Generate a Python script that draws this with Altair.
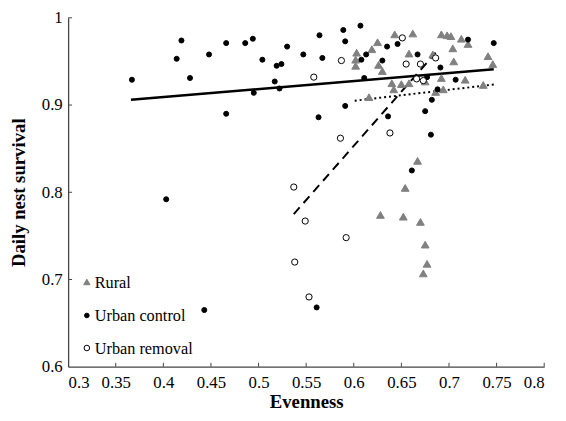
import altair as alt
import pandas as pd

# --- data ---
rural_x = [0.603, 0.602, 0.602, 0.619, 0.625, 0.626, 0.630, 0.643, 0.662, 0.658,
           0.640, 0.642, 0.650, 0.658, 0.683, 0.692, 0.698, 0.702, 0.713, 0.720,
           0.704, 0.705, 0.692, 0.717, 0.694, 0.686, 0.675, 0.741, 0.746, 0.736,
           0.616, 0.667, 0.654, 0.628, 0.652, 0.670, 0.675, 0.677, 0.673]
rural_y = [0.960, 0.952, 0.945, 0.964, 0.972, 0.946, 0.939, 0.981, 0.982, 0.959,
           0.925, 0.918, 0.924, 0.925, 0.958, 0.981, 0.980, 0.979, 0.976, 0.970,
           0.965, 0.950, 0.931, 0.929, 0.918, 0.915, 0.927, 0.956, 0.947, 0.923,
           0.909, 0.836, 0.805, 0.774, 0.772, 0.766, 0.740, 0.718, 0.707]

control_x = [0.367, 0.419, 0.414, 0.428, 0.448, 0.466, 0.466, 0.486, 0.494, 0.495,
             0.504, 0.519, 0.524, 0.517, 0.522, 0.530, 0.547, 0.403, 0.443, 0.564,
             0.567, 0.589, 0.591, 0.607, 0.608, 0.613, 0.630, 0.635, 0.646, 0.667,
             0.691, 0.720, 0.747, 0.611, 0.677, 0.707, 0.688, 0.682, 0.675, 0.591,
             0.563, 0.636, 0.681, 0.661, 0.561]
control_y = [0.929, 0.974, 0.953, 0.931, 0.958, 0.971, 0.890, 0.971, 0.976, 0.914,
             0.952, 0.945, 0.947, 0.927, 0.919, 0.967, 0.958, 0.792, 0.665, 0.980,
             0.954, 0.986, 0.973, 0.991, 0.952, 0.958, 0.951, 0.967, 0.970, 0.958,
             0.943, 0.975, 0.971, 0.931, 0.932, 0.929, 0.918, 0.906, 0.893, 0.899,
             0.886, 0.887, 0.866, 0.825, 0.668]

removal_x = [0.537, 0.549, 0.538, 0.553, 0.558, 0.587, 0.586, 0.592, 0.638, 0.651,
             0.655, 0.670, 0.686, 0.666, 0.673]
removal_y = [0.806, 0.767, 0.720, 0.680, 0.932, 0.951, 0.862, 0.748, 0.868, 0.977,
             0.947, 0.947, 0.954, 0.930, 0.928]

groups = ["Rural", "Urban control", "Urban removal"]

# fitted lines (endpoints)
control_line_x = [0.366, 0.747]
control_line_y = [0.906, 0.941]
removal_line_x = [0.537, 0.686]
removal_line_y = [0.775, 0.960]
rural_line_x = [0.601, 0.747]
rural_line_y = [0.905, 0.9235]

x_ticks = [0.3, 0.35, 0.4, 0.45, 0.5, 0.55, 0.6, 0.65, 0.7, 0.75, 0.8]
y_ticks = [0.6, 0.7, 0.8, 0.9, 1.0]

# --- build tables ---
pts = pd.concat([
    pd.DataFrame({"x": rural_x, "y": rural_y, "g": groups[0]}),
    pd.DataFrame({"x": control_x, "y": control_y, "g": groups[1]}),
    pd.DataFrame({"x": removal_x, "y": removal_y, "g": groups[2]}),
], ignore_index=True)

FONT = "Liberation Serif"
W, H = 483, 354

SHAPES = ["triangle-up", "circle", "circle"]
FILLS = ["#808080", "#000000", "#ffffff"]
STROKES = ["#808080", "#000000", "#000000"]
SIZES = [62, 26, 40]

xscale = alt.Scale(domain=[0.3, 0.8], nice=False, zero=False)
yscale = alt.Scale(domain=[0.6, 1.0], nice=False, zero=False)

xaxis = alt.Axis(values=x_ticks, format=".2~f", title="Evenness", ticks=False,
                 grid=False, labelPadding=8, titlePadding=2,
                 domainColor="#444", domainWidth=1.3,
                 labelFont=FONT, labelFontSize=17, labelColor="black",
                 titleFont=FONT, titleFontSize=19, titleFontWeight="bold", titleColor="black")
yaxis = alt.Axis(values=y_ticks, format=".1~f", title="Daily nest survival",
                 ticks=False, grid=False, labelPadding=6, titlePadding=13,
                 domainColor="#444", domainWidth=1.3,
                 labelFont=FONT, labelFontSize=17, labelColor="black",
                 titleFont=FONT, titleFontSize=19, titleFontWeight="bold", titleColor="black")

points = alt.Chart(pts).mark_point(opacity=1, fillOpacity=1, strokeWidth=1).encode(
    x=alt.X("x:Q", scale=xscale, axis=xaxis),
    y=alt.Y("y:Q", scale=yscale, axis=yaxis),
    shape=alt.Shape("g:N", scale=alt.Scale(domain=groups, range=SHAPES), legend=None),
    fill=alt.Fill("g:N", scale=alt.Scale(domain=groups, range=FILLS), legend=None),
    stroke=alt.Stroke("g:N", scale=alt.Scale(domain=groups, range=STROKES), legend=None),
    size=alt.Size("g:N", scale=alt.Scale(type="ordinal", domain=groups, range=SIZES), legend=None),
)

def line_layer(xs, ys, dash, width):
    df = pd.DataFrame({"x": xs, "y": ys})
    kw = dict(color="black", strokeWidth=width)
    if dash:
        kw["strokeDash"] = dash
    return alt.Chart(df).mark_line(**kw).encode(
        x=alt.X("x:Q", scale=xscale, axis=xaxis),
        y=alt.Y("y:Q", scale=yscale, axis=yaxis),
    )

l_control = line_layer(control_line_x, control_line_y, None, 2.5)
l_removal = line_layer(removal_line_x, removal_line_y, [9, 6], 2)
l_rural = line_layer(rural_line_x, rural_line_y, [2, 3], 2)

xt = alt.Chart(pd.DataFrame({"x": x_ticks[1:]})).mark_rule(color="#444", strokeWidth=1).encode(
    x=alt.X("x:Q", scale=xscale, axis=xaxis),
    y=alt.value(H), y2=alt.value(H - 4),
)
yt = alt.Chart(pd.DataFrame({"y": y_ticks[1:]})).mark_rule(color="#444", strokeWidth=1).encode(
    y=alt.Y("y:Q", scale=yscale, axis=yaxis),
    x=alt.value(0), x2=alt.value(4),
)

# manual legend (inside plot, lower-left)
legend_layers = []
LEG_ROWS = [268, 302, 335]
LEG_SIZES = [42, 22, 32]
for i, g in enumerate(groups):
    d = pd.DataFrame({"g": [g]})
    legend_layers.append(
        alt.Chart(d).mark_point(shape=SHAPES[i], fill=FILLS[i], stroke=STROKES[i],
                                 opacity=1, fillOpacity=1, strokeWidth=1, size=LEG_SIZES[i]).encode(
            x=alt.value(19), y=alt.value(LEG_ROWS[i]))
    )
    legend_layers.append(
        alt.Chart(d).mark_text(font=FONT, fontSize=16.5, color="black", align="left",
                               baseline="middle").encode(
            x=alt.value(27), y=alt.value(LEG_ROWS[i] + 1), text="g:N")
    )

chart = alt.layer(l_control, l_removal, l_rural, points, xt, yt, *legend_layers).properties(
    width=W, height=H,
    autosize=alt.AutoSizeParams(type="none"),
    padding={"left": 61, "top": 7, "right": 14, "bottom": 45},
    background="white",
).configure_view(stroke=None)

chart.save("out.html", embed_options={"renderer": "svg", "actions": False})
